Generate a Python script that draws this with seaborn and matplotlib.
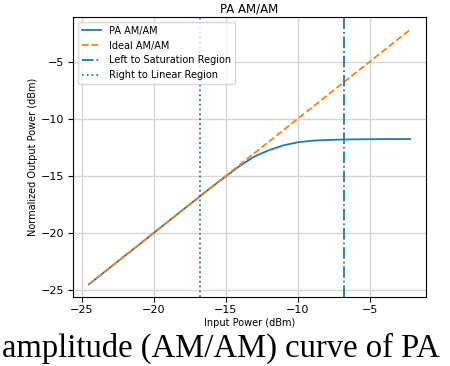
import matplotlib
matplotlib.use("Agg")
import matplotlib.pyplot as plt
import seaborn as sns
import pandas as pd

# Data
pa_in = [-24.5, -22, -20, -18, -17, -16, -15, -14, -13, -12, -11, -10, -9, -8, -7, -6, -5, -4, -3, -2.2]
pa_out = [-24.5, -22, -20, -18, -17, -16, -15.05, -14.1, -13.3, -12.75, -12.33, -12.06, -11.92, -11.86,
          -11.82, -11.8, -11.79, -11.78, -11.78, -11.78]
ideal_in = [-24.5, -2.2]
ideal_out = [-24.5, -2.2]
sat_x = -6.8
lin_x = -16.8

pa_df = pd.DataFrame({"x": pa_in, "y": pa_out})
ideal_df = pd.DataFrame({"x": ideal_in, "y": ideal_out})

fig = plt.figure(figsize=(4.5, 3.66), dpi=100)
ax = fig.add_axes([0.162, 0.1885, 0.785, 0.765])

sns.lineplot(data=pa_df, x="x", y="y", ax=ax, color="C0", label="PA AM/AM", lw=1.3)
sns.lineplot(data=ideal_df, x="x", y="y", ax=ax, color="C1", linestyle="--", label="Ideal AM/AM", lw=1.3)
ax.axvline(sat_x, color="C0", linestyle="-.", lw=1.3, label="Left to Saturation Region")
ax.axvline(lin_x, color="C0", linestyle=":", lw=1.3, label="Right to Linear Region")

ax.grid(True, color="#d3d3d3", lw=1)
ax.set_axisbelow(True)
ax.set_xticks([-25, -20, -15, -10, -5])
ax.set_yticks([-25, -20, -15, -10, -5])
ax.tick_params(labelsize=8, length=3.5, pad=2.5)
ax.set_xlabel("Input Power (dBm)", fontsize=7, labelpad=2)
ax.set_ylabel("Normalized Output Power (dBm)", fontsize=7, labelpad=2)
ax.set_title("PA AM/AM", fontsize=8.5, pad=3)
ax.legend(loc="upper left", fontsize=7, framealpha=0.8)

fig.text(0.005, 0.024, "amplitude (AM/AM) curve of PA", family="Liberation Serif", fontsize=23.5,
         ha="left", va="baseline")

fig.savefig("out.png", dpi=100)
